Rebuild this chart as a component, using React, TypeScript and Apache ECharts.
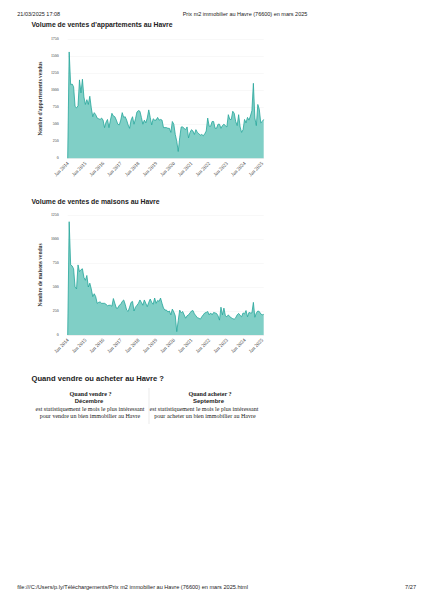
import React, { useEffect, useRef } from "react";
import * as echarts from "echarts";

const monthNames = ["Jan", "Feb", "Mar", "Apr", "May", "Jun", "Jul", "Aug", "Sep", "Oct", "Nov", "Dec"];
const startYear = 2014;

const apartmentSales = [
  0, 1560, 1080, 1090, 1050, 760, 740, 770, 1150, 960, 1160, 900,
  790, 860, 790, 910, 740, 610, 670, 640, 590, 580, 570, 590,
  560, 450, 530, 570, 450, 560, 660, 620, 610, 560, 500, 490,
  560, 670, 600, 610, 560, 490, 440, 560, 610, 500, 580, 680,
  700, 690, 600, 500, 560, 520, 590, 710, 600, 490, 580, 560,
  560, 600, 560, 570, 560, 450, 450, 450, 440, 440, 380, 540,
  500, 350, 250, 100, 300, 460, 460, 440, 420, 460, 300, 380,
  420, 400, 350, 420, 380, 360, 340, 350, 330, 360, 400, 590,
  470, 470, 540, 540, 440, 440, 500, 500, 440, 480, 500, 480,
  460, 640, 570, 570, 690, 660, 540, 480, 640, 460, 380, 420,
  570, 520, 600, 560, 620, 700, 1100, 590, 480, 790, 720, 520,
  540, 570,
];

const houseSales = [
  0, 1180, 730, 720, 690, 500, 480, 730, 660, 680, 690, 600,
  570, 620, 500, 540, 480, 400, 430, 400, 330, 340, 345, 330,
  330, 330, 320, 305, 310, 310, 300, 380, 330, 280, 280, 310,
  320, 350, 365, 320, 260, 245, 290, 340, 350, 250, 290, 310,
  330, 365, 340, 310, 365, 330, 295, 340, 375, 340, 320, 385,
  330, 360, 350, 385, 330, 280, 260, 260, 240, 250, 210, 270,
  240, 200, 35, 150, 260, 230, 245, 210, 175, 200, 210, 230,
  250, 255, 220, 200, 180, 175, 165, 190, 210, 230, 235, 245,
  210, 230, 210, 235, 230, 225, 200, 155, 290, 210, 280, 200,
  190, 210, 190, 180, 170, 165, 180, 210, 225, 205, 190, 230,
  220, 255, 190, 235, 230, 230, 340, 185, 230, 250, 245, 220,
  210, 215,
];

const categories = apartmentSales.map(
  (_, i) => `${monthNames[i % 12]} ${startYear + Math.floor(i / 12)}`
);

const apartmentAxis = { max: 1750, step: 250 };
const houseAxis = { max: 1250, step: 250 };

const headerLeft = "21/03/2025 17:08";
const headerCenter = "Prix m2 immobilier au Havre (76600) en mars 2025";
const title1 = "Volume de ventes d'appartements au Havre";
const title2 = "Volume de ventes de maisons au Havre";
const yName1 = "Nombre d'appartements vendus";
const yName2 = "Nombre de maisons vendus";
const sectionTitle = "Quand vendre ou acheter au Havre ?";
const sellHead = "Quand vendre ?";
const sellMonth = "Décembre";
const sellLines = ["est statistiquement le mois le plus intéressant", "pour vendre un bien immobilier au Havre"];
const buyHead = "Quand acheter ?";
const buyMonth = "Septembre";
const buyLines = ["est statistiquement le mois le plus intéressant", "pour acheter un bien immobilier au Havre"];
const footerLeft = "file:///C:/Users/p.ly/Téléchargements/Prix m2 immobilier au Havre (76600) en mars 2025.html";
const footerRight = "7/27";

const SANS = "'Liberation Sans', Arial, sans-serif";
const SERIF = "'Liberation Serif', 'Times New Roman', serif";
const LINE = "#26a69a";
const FILL = "#80cfc6";

function xAxisCfg(gridIndex: number) {
  return {
    type: "category" as const,
    gridIndex,
    data: categories,
    boundaryGap: false,
    axisLine: { show: true, lineStyle: { color: "#e6e6e6", width: 0.5 } },
    axisTick: { show: false },
    splitLine: { show: false },
    axisLabel: {
      interval: (index: number) => index % 12 === 0,
      rotate: 45,
      fontSize: 5.1,
      fontFamily: SERIF,
      color: "#333",
      margin: 4,
    },
  };
}

function yAxisCfg(gridIndex: number, max: number, step: number, name: string) {
  return {
    type: "value" as const,
    gridIndex,
    min: 0,
    max,
    interval: step,
    name,
    nameLocation: "middle" as const,
    nameRotate: 90,
    nameGap: 25,
    nameTextStyle: { fontSize: 5.4, fontFamily: SERIF, fontWeight: "bold", color: "#333" },
    axisLine: { show: false },
    axisTick: { show: false },
    splitLine: { show: true, lineStyle: { color: "#f0f0f0", width: 0.5 } },
    axisLabel: {
      fontSize: 3.9,
      fontFamily: SERIF,
      color: "#333",
      margin: 9,
      formatter: (v: number) => String(v),
    },
  };
}

function txt(text: string, x: number, y: number, size: number, family: string, opts: any = {}) {
  return {
    type: "text",
    x,
    y,
    silent: true,
    style: {
      text,
      fontSize: size,
      fontFamily: family,
      fontWeight: opts.bold ? "bold" : "normal",
      fill: opts.color || "#222222",
      align: opts.align || "left",
      verticalAlign: "middle",
    },
  };
}

export default function App() {
  const ref = useRef<HTMLDivElement>(null);
  useEffect(() => {
    if (!ref.current) return;
    const chart = echarts.init(ref.current, undefined, { renderer: "svg" });
    const col1 = 90;
    const col2 = 205;
    chart.setOption({
      animation: false,
      backgroundColor: "#ffffff",
      grid: [
        { left: 67.7, top: 39, width: 196, height: 119.3 },
        { left: 67.7, top: 215, width: 196, height: 120 },
      ],
      xAxis: [xAxisCfg(0), xAxisCfg(1)],
      yAxis: [
        yAxisCfg(0, apartmentAxis.max, apartmentAxis.step, yName1),
        yAxisCfg(1, houseAxis.max, houseAxis.step, yName2),
      ],
      series: [
        {
          type: "line",
          xAxisIndex: 0,
          yAxisIndex: 0,
          data: apartmentSales,
          showSymbol: false,
          lineStyle: { color: LINE, width: 0.8 },
          areaStyle: { color: FILL, opacity: 1 },
        },
        {
          type: "line",
          xAxisIndex: 1,
          yAxisIndex: 1,
          data: houseSales,
          showSymbol: false,
          lineStyle: { color: LINE, width: 0.8 },
          areaStyle: { color: FILL, opacity: 1 },
        },
      ],
      graphic: [
        txt(headerLeft, 17.3, 14, 5.5, SANS),
        txt(headerCenter, 245, 14, 5.5, SANS, { align: "center" }),
        txt(title1, 31.5, 24.5, 6.85, SANS, { bold: true }),
        txt(title2, 31.5, 201, 6.85, SANS, { bold: true }),
        txt(sectionTitle, 31.5, 378.5, 7.6, SANS, { bold: true }),
        txt(sellHead, col1 + 0.5, 394, 6.1, SERIF, { bold: true, align: "center" }),
        txt(sellMonth, col1 - 1, 401.2, 5.9, SANS, { bold: true, align: "center" }),
        txt(sellLines[0], col1, 409.3, 6.05, SERIF, { align: "center" }),
        txt(sellLines[1], col1, 416, 6.05, SERIF, { align: "center" }),
        txt(buyHead, col2 + 5, 394, 6.1, SERIF, { bold: true, align: "center" }),
        txt(buyMonth, col2 + 3.5, 401.2, 6, SANS, { bold: true, align: "center" }),
        txt(buyLines[0], col2 - 1, 409.3, 6.05, SERIF, { align: "center" }),
        txt(buyLines[1], col2, 416, 6.05, SERIF, { align: "center" }),
        {
          type: "line",
          silent: true,
          shape: { x1: 149, y1: 388, x2: 149, y2: 424 },
          style: { stroke: "#dddddd", lineWidth: 0.6 },
        },
        txt(footerLeft, 17.3, 587.3, 5.6, SANS),
        txt(footerRight, 416, 587.3, 5.6, SANS, { align: "right" }),
      ],
    });
    return () => chart.dispose();
  }, []);
  return (
    <div
      ref={ref}
      style={{ position: "fixed", left: 0, top: 0, width: 424, height: 600, background: "#fff" }}
    />
  );
}
